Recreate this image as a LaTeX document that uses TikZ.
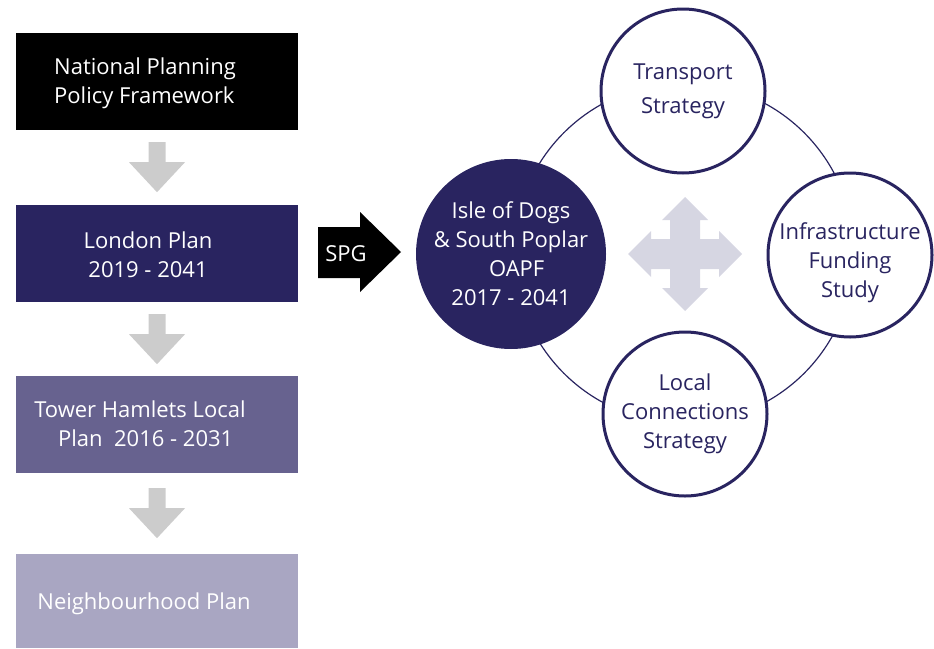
\documentclass[tikz,border=0pt]{standalone}
\usepackage{fontspec}
\setmainfont{Open Sans}
\usetikzlibrary{positioning}
\definecolor{navy}{RGB}{41,36,96}
\definecolor{plumgrey}{RGB}{103,98,143}
\definecolor{lilac}{RGB}{169,166,194}
\definecolor{arrowgrey}{RGB}{204,204,204}
\definecolor{crossgrey}{RGB}{214,214,226}
\tikzset{
planbox/.style={rectangle, minimum width=282pt, minimum height=97pt, inner sep=0pt},
boxtext/.style={text=white, align=center, font=\fontsize{22}{29}\selectfont},
topic/.style={circle, draw=navy, line width=3pt, fill=white, minimum size=164pt, inner sep=0pt,
              text=navy, align=center, font=\fontsize{22}{29}\selectfont},
topictext/.style={text=navy, align=center, font=\fontsize{22}{29}\selectfont},
downarrow/.pic={\fill[arrowgrey] (-8.5,0) -- (8.5,0) -- (8.5,20) -- (28,20) -- (0,50)
                -- (-28,20) -- (-8.5,20) -- cycle;},
}

\begin{document}
\begin{tikzpicture}[x=1pt, y=-1pt]
    \useasboundingbox (0,0) rectangle (934,648);

    %plan boxes on the left
    \node[planbox, fill=black]     (npf)  at (157,81.5)  { };
    \node[planbox, fill=navy]      (lp)   at (157,253.5) { };
    \node[planbox, fill=plumgrey]  (thlp) at (157,424.5) { };
    \node[planbox, fill=lilac, minimum height=94pt] (np) at (157,601) { };

    \node[boxtext, align=left] (npftext)  at (145,83)  {National Planning\\Policy Framework};
    \node[boxtext]             (lptext)   at (148,255) {London Plan\\2019 - 2041};
    \node[boxtext]             (thlptext) at (140,424) {Tower Hamlets Local\\\ \ Plan~~2016 - 2031};
    \node[boxtext]             (nptext)   at (144,604) {Neighbourhood Plan};

    %grey arrows between the boxes
    \pic at ([yshift=-12pt]npf.south)  {downarrow};
    \pic at ([yshift=-12pt]lp.south)   {downarrow};
    \pic at ([yshift=-15pt]thlp.south) {downarrow};

    %SPG arrow
    \fill[black] (318,227) -- (360,227) -- (360,212) -- (401,252) -- (360,292)
                 -- (360,278) -- (318,278) -- cycle;
    \node[boxtext] (spg) at (346,254) {SPG};

    %ring behind the circles
    \coordinate (ring) at (684,253);
    \draw[navy, line width=1.2pt] (ring) circle[radius=170pt];

    %circles
    \node[circle, fill=navy, minimum size=190pt, inner sep=0pt, boxtext] (oapf) at (511,254)
        {Isle of Dogs\\\& South Poplar\\\ \ OAPF\\2017 - 2041};
    \node[topic] (transport) at (683,91)  {Transport\\[5pt]Strategy};
    \node[topic] (funding)   at (850,255) { };
    \node[topictext] (fundingtext) at ([yshift=-8pt]funding.center) {Infrastructure\\Funding\\Study};
    \node[topic] (local)     at (685,414) {Local\\Connections\\Strategy};

    %four way arrow
    \fill[crossgrey, shift={(685,254)}] (0,-57) -- (23,-34) -- (15,-34) -- (15,-15) -- (34,-15)
        -- (34,-23) -- (57,0) -- (34,23) -- (34,15) -- (15,15) -- (15,34) -- (23,34) -- (0,57)
        -- (-23,34) -- (-15,34) -- (-15,15) -- (-34,15) -- (-34,23) -- (-57,0) -- (-34,-23)
        -- (-34,-15) -- (-15,-15) -- (-15,-34) -- (-23,-34) -- cycle;

\end{tikzpicture}
\end{document}
